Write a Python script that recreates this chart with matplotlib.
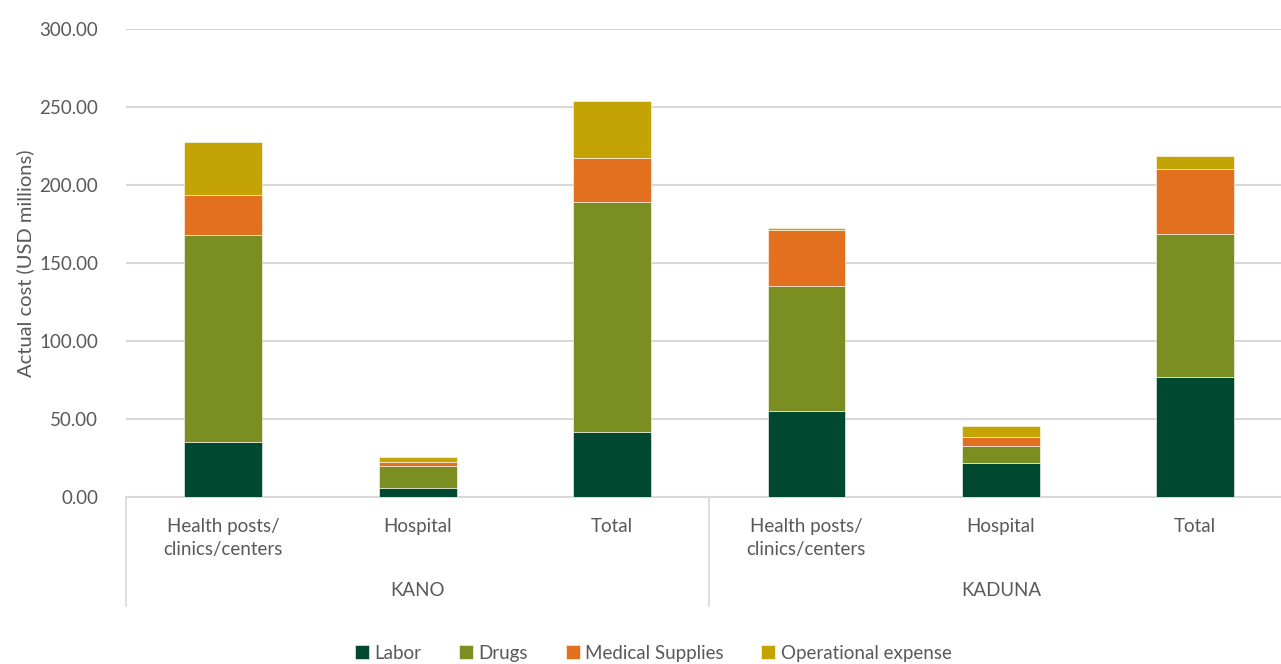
import numpy as np
import matplotlib.pyplot as plt
from matplotlib.transforms import blended_transform_factory

# Cost components (USD millions) per facility type, grouped by state
states = ["KANO", "KADUNA"]
facilities = ["Health posts/\nclinics/centers", "Hospital", "Total"]
labor = [35.2, 5.6, 41.5, 55.1, 21.6, 77.1]
drugs = [132.8, 14.5, 147.8, 80.4, 10.9, 91.7]
medical_supplies = [25.8, 2.6, 28.2, 35.9, 6.0, 41.5]
operational_expense = [33.8, 3.2, 36.3, 1.3, 6.8, 8.3]

series = [
    ("Labor", labor, "#00482F"),
    ("Drugs", drugs, "#7A8E21"),
    ("Medical Supplies", medical_supplies, "#E3701F"),
    ("Operational expense", operational_expense, "#C4A305"),
]

plt.rcParams["font.family"] = ["Lato", "DejaVu Sans"]
text_color = "#595959"
grid_color = "#D9D9D9"

fig = plt.figure(figsize=(12.81, 6.64), dpi=100)
ax = fig.add_axes([0.0984, 0.2515, 0.9105, 0.7048])

x = np.arange(len(labor))
bottom = np.zeros(len(labor))
for name, vals, color in series:
    vals = np.array(vals)
    ax.bar(x, vals, width=0.4, bottom=bottom, color=color, label=name,
           edgecolor="white", linewidth=0.4, zorder=3)
    bottom += vals

ax.set_xlim(-0.5, len(labor) - 0.5)
ax.set_ylim(0, 300)
ax.set_yticks(np.arange(0, 301, 50))
ax.set_yticklabels([f"{v:.2f}" for v in np.arange(0, 301, 50)])
ax.yaxis.grid(True, color=grid_color, linewidth=1.5, zorder=0)
ax.tick_params(axis="y", length=0, pad=20, labelsize=13.5, labelcolor=text_color)

for side in ["top", "right", "left"]:
    ax.spines[side].set_visible(False)
ax.spines["bottom"].set_color(grid_color)
ax.spines["bottom"].set_linewidth(1.5)

ax.set_xticks(x)
ax.set_xticklabels(facilities * len(states), linespacing=1.45)
ax.tick_params(axis="x", length=0, pad=15, labelsize=13.5, labelcolor=text_color)

ax.set_ylabel("Actual cost (USD millions)", fontsize=14.5, color=text_color, labelpad=4)

# State group labels and divider lines under the axis
trans = blended_transform_factory(ax.transData, ax.transAxes)
n = len(facilities)
for i, state in enumerate(states):
    center = i * n + (n - 1) / 2
    ax.text(center, -0.20, state, transform=trans, ha="center", va="center",
            fontsize=13.5, color=text_color)
for pos in range(0, len(labor) + 1, n):
    ax.plot([pos - 0.5, pos - 0.5], [0, -0.232], transform=trans,
            color=grid_color, linewidth=1.2, clip_on=False)

fig.legend(loc="lower center", bbox_to_anchor=(0.51, -0.022), ncol=4,
           frameon=False, fontsize=13.5, handlelength=0.75, handleheight=0.75,
           handletextpad=0.3, columnspacing=2.0, labelcolor=text_color)

fig.savefig("out.png", dpi=100)
